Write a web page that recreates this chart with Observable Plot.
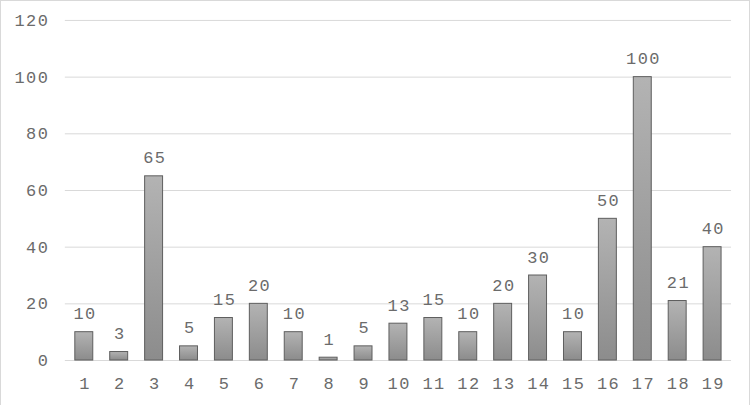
<!DOCTYPE html>
<html><head><meta charset="utf-8">
<script src="https://cdn.jsdelivr.net/npm/d3@7"></script>
<script src="https://cdn.jsdelivr.net/npm/@observablehq/plot@0.6"></script>
<style>
body{margin:0;background:#fff;}
svg{display:block;}
</style></head>
<body><div id="chart"></div>
<script>
const categories = ["1","2","3","4","5","6","7","8","9","10","11","12","13","14","15","16","17","18","19"];
const values = [10,3,65,5,15,20,10,1,5,13,15,10,20,30,10,50,100,21,40];
const yTicks = [0,20,40,60,80,100,120];
const data = categories.map((c,i)=>({cat:c, value:values[i]}));

const defs = () => {
  const s = d3.create("svg:defs");
  const g = s.append("linearGradient").attr("id","barGrad").attr("x1",0).attr("y1",0).attr("x2",0).attr("y2",1);
  g.append("stop").attr("offset","0%").attr("stop-color","#b3b3b3");
  g.append("stop").attr("offset","100%").attr("stop-color","#8c8c8c");
  return s.node();
};

const chart = Plot.plot({
  width: 750, height: 405,
  marginLeft: 64, marginRight: 18, marginTop: 19, marginBottom: 45,
  style: {fontFamily: "'Liberation Mono', monospace", fontSize: "17px", color: "#6b6b6b", background: "#fff", letterSpacing: "1.5px"},
  x: {domain: categories, paddingInner: 0.48, paddingOuter: 0.24, label: null},
  y: {domain: [0,120], ticks: yTicks, label: null},
  marks: [
    defs,
    Plot.gridY(yTicks, {stroke: "#d9d9d9", strokeOpacity: 1, strokeWidth: 1}),
    Plot.barY(data, {x: "cat", y: "value", fill: "url(#barGrad)", stroke: "#5e5e5e", strokeWidth: 1}),
    Plot.text(data, {x: "cat", y: "value", text: d => String(d.value), lineAnchor: "bottom", dy: -13, dx: 0.75, fill: "#6b6b6b", fontSize: 17}),
    Plot.axisX({tickSize: 0, tickPadding: 16, dx: 0.75, fontSize: 17}),
    Plot.axisY(yTicks, {tickSize: 0, tickPadding: 16, fontSize: 17})
  ]
});
chart.style.border = "1px solid #d9d9d9";
chart.style.boxSizing = "border-box";
document.getElementById("chart").appendChild(chart);
</script></body></html>
